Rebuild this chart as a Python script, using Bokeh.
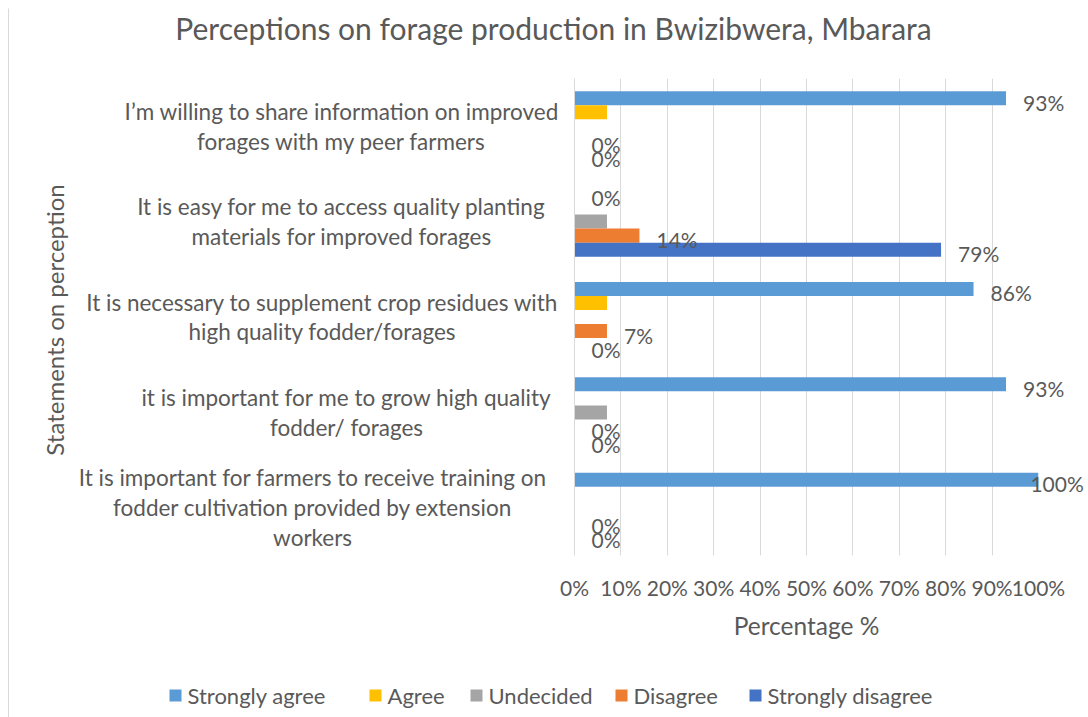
import math
from bokeh.plotting import figure
from bokeh.models import (ColumnDataSource, FactorRange, Range1d, FixedTicker,
                          PrintfTickFormatter)
from bokeh.transform import dodge
from bokeh.core.properties import value
from bokeh.embed import file_html
from bokeh.resources import INLINE

# ---------------- data ----------------
title_text = "Perceptions on forage production in Bwizibwera, Mbarara"
categories = [
    "I\u2019m willing to share information on improved\nforages with my peer farmers",
    "It is easy for me to access quality planting\nmaterials for improved forages",
    "It is necessary to supplement crop residues with\nhigh quality fodder/forages",
    "it is important for me to grow high quality\nfodder/ forages",
    "It is important for farmers to receive training on\nfodder cultivation provided by extension\nworkers",
]
series_names = ["Strongly agree", "Agree", "Undecided", "Disagree", "Strongly disagree"]
strongly_agree = [93, 0, 86, 93, 100]
agree = [7, 0, 7, 0, 0]
undecided = [0, 7, 0, 7, 0]
disagree = [0, 14, 7, 0, 0]
strongly_disagree = [0, 79, 0, 0, 0]
series_values = [strongly_agree, agree, undecided, disagree, strongly_disagree]
series_colors = ["#5B9BD5", "#FFC000", "#A5A5A5", "#ED7D31", "#4472C4"]
series_labelled = [True, False, False, True, True]
x_ticks = [0, 10, 20, 30, 40, 50, 60, 70, 80, 90, 100]
x_label = "Percentage %"
y_label = "Statements on perception"

FONT = "Lato"
TXT = "#595959"
GRID = "#D9D9D9"

W, H = 1088, 717
BL, BR, BT, BB = 574, 50, 78, 162
FRAME_W = W - BL - BR
BAND = (H - BT - BB) / len(categories)

p = figure(width=W, height=H,
           y_range=FactorRange(factors=list(reversed(categories)), range_padding=0),
           x_range=Range1d(0, 100),
           output_backend="svg", toolbar_location=None,
           min_border_left=BL, min_border_right=BR,
           min_border_top=BT, min_border_bottom=BB)
p.outline_line_color = None
p.background_fill_color = "white"
p.border_fill_color = "white"

# chart title (drawn above the plot area, centred on the chart)
tsrc = ColumnDataSource(dict(tcat=[categories[0]], text=[title_text]))
p.text(x=0, y=dodge("tcat", 0.5, range=p.y_range), text="text", source=tsrc,
       x_offset=553 - BL, y_offset=-(BT - 27), text_align="center",
       text_baseline="middle", text_font=value(FONT), text_font_size="30px",
       text_color=TXT, level="annotation")

# vertical axis title
ysrc = ColumnDataSource(dict(ycat=[categories[2]], text=[y_label]))
p.text(x=0, y=dodge("ycat", 0, range=p.y_range), text="text", source=ysrc,
       x_offset=54 - BL, y_offset=3, angle=math.pi / 2, text_align="center",
       text_baseline="middle", text_font=value(FONT), text_font_size="24px",
       text_color=TXT, level="annotation")

# bars + data labels
slot = 0.147
offsets = [2 * slot, slot, 0, -slot, -2 * slot]
fs_lab = 21
for name, vals, col, off, lab in zip(series_names, series_values, series_colors,
                                      offsets, series_labelled):
    labs = [f"{v}%" for v in vals]
    # keep labels inside the chart area (as the original does for 100%)
    xoff = [min(17, (W - 6) - len(t) * 0.62 * fs_lab - (BL + v * FRAME_W / 100))
            for v, t in zip(vals, labs)]
    src = ColumnDataSource(dict(cat=categories, v=vals, lab=labs, xo=xoff))
    p.hbar(y=dodge("cat", off, range=p.y_range), left=0, right="v", height=slot,
           fill_color=col, line_color=None, source=src)
    if lab:
        p.text(x="v", y=dodge("cat", off, range=p.y_range), text="lab", source=src,
               x_offset="xo", y_offset=4, text_align="left", text_baseline="middle",
               text_font=value(FONT), text_font_size=f"{fs_lab}px", text_color=TXT,
               level="annotation")

# category labels (centered multi-line blocks, right edge near the axis)
fs_cat = 22.5
cw = 0.43 * fs_cat
xo = [-(20 + max(len(s) for s in c.split("\n")) * cw / 2) for c in categories]
csrc = ColumnDataSource(dict(cat=categories, text=categories, xo=xo))
p.text(x=0, y="cat", text="text", x_offset="xo", source=csrc,
       text_align="center", text_baseline="middle", text_line_height=1.11,
       text_font=value(FONT), text_font_size=f"{fs_cat}px", text_color=TXT,
       level="annotation")

# axes
xa = p.xaxis[0]
xa.ticker = FixedTicker(ticks=x_ticks)
xa.formatter = PrintfTickFormatter(format="%d%%")
xa.axis_line_color = None
xa.major_tick_line_color = None
xa.minor_tick_line_color = None
xa.major_tick_out = 0
xa.major_label_standoff = 19
xa.major_label_text_font = FONT
xa.major_label_text_font_size = "21px"
xa.major_label_text_color = TXT
xa.axis_label = x_label
xa.axis_label_standoff = 8
xa.axis_label_text_font = FONT
xa.axis_label_text_font_size = "24.5px"
xa.axis_label_text_font_style = "normal"
xa.axis_label_text_color = TXT

p.yaxis.visible = False

p.xgrid.ticker = FixedTicker(ticks=x_ticks)
p.xgrid.grid_line_color = GRID
p.ygrid.grid_line_color = None

# value axis line at 0 % and the chart's left border
bsrc = ColumnDataSource(dict(
    x=[0, (8 - BL) * 100 / FRAME_W],
    y0=[-0.5, -0.5 - BB / BAND],
    y1=[len(categories) - 0.5, len(categories) - 0.5 + (BT - 8) / BAND],
    bcat=[categories[-1], categories[-1]]))
p.segment(x0="x", x1="x", y0=dodge("bcat", 0, range=p.y_range),
          y1=dodge("bcat", 0, range=p.y_range), source=bsrc, line_alpha=0)
for i in range(2):
    p.segment(x0=bsrc.data["x"][i], x1=bsrc.data["x"][i],
              y0=dodge("bcat", bsrc.data["y0"][i], range=p.y_range),
              y1=dodge("bcat", bsrc.data["y1"][i], range=p.y_range),
              source=ColumnDataSource(dict(bcat=[categories[-1]])),
              line_color=GRID, line_width=1, level="annotation")

# legend row below the chart (drawn as annotation-level glyphs)
fs_leg = 22
leg_left, leg_cy, sq, gap, sep = 169, 695, 12, 6, 28
sq_x, tx_off = [], []
cur = leg_left
for name in series_names:
    sq_x.append((cur + sq / 2 - BL) * 100 / FRAME_W)
    tx_off.append(cur + sq + gap - BL)
    cur += sq + gap + len(name) * 0.5 * fs_leg + sep
leg_dy = -((leg_cy - (H - BB)) / BAND) - 0.5
lsrc = ColumnDataSource(dict(ycat=[categories[-1]] * len(series_names),
                             name=series_names, color=series_colors,
                             sx=sq_x, tx=tx_off))
p.rect(x="sx", y=dodge("ycat", leg_dy, range=p.y_range), width=sq, height=sq,
       width_units="screen", height_units="screen", fill_color="color",
       line_color=None, source=lsrc, level="annotation")
p.text(x=0, y=dodge("ycat", leg_dy, range=p.y_range), text="name", x_offset="tx",
       source=lsrc, text_align="left", text_baseline="middle",
       text_font=value(FONT), text_font_size=f"{fs_leg}px", text_color=TXT,
       level="annotation")

open("out.html", "w").write(file_html(p, INLINE))
